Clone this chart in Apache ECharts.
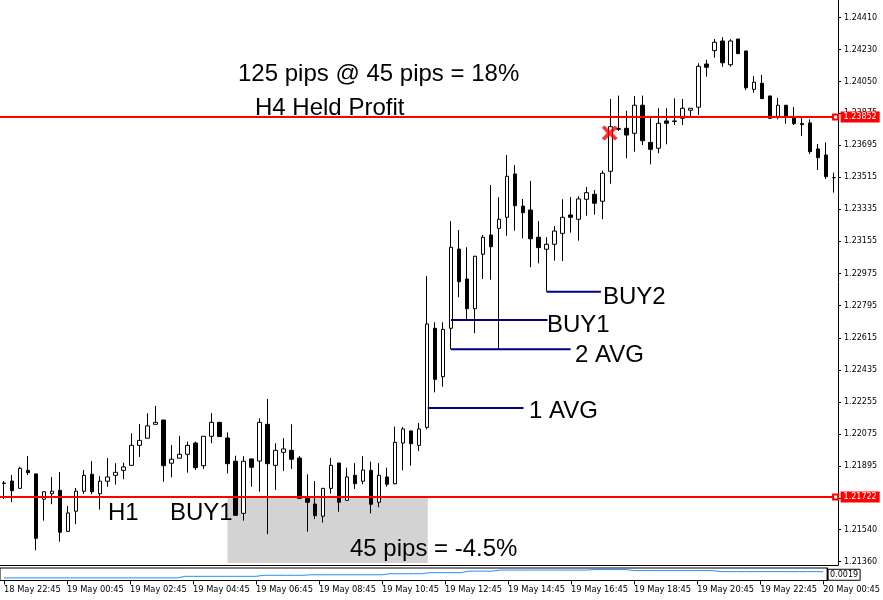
<!DOCTYPE html>
<html>
<head>
<meta charset="utf-8">
<script src="https://cdn.jsdelivr.net/npm/echarts@6/dist/echarts.min.js"></script>
<style>
html,body{margin:0;padding:0;background:#fff;}
#c{width:883px;height:600px;}
</style>
</head>
<body>
<div id="c"></div>
<script>
// ---- data (M15 candles) ----
const opens = [1.21799,1.21812,1.21771,1.21872,1.21852,1.21710,1.21741,1.21760,1.21530,1.21643,
1.21755,1.21850,1.21741,1.21811,1.21844,1.21872,1.21900,1.22012,1.22052,1.22130,
1.22154,1.21912,1.21940,1.21962,1.22025,1.21898,1.22063,1.22141,1.22053,1.21923,
1.21631,1.21936,1.21924,1.22130,1.21900,1.21973,1.21984,1.21941,1.21715,1.21683,
1.21615,1.21771,1.21913,1.21704,1.21844,1.21811,1.21872,1.21693,1.21835,1.21797,
1.22025,1.22093,1.22012,1.22113,1.22668,1.22397,1.22668,1.23112,1.22944,1.22778,
1.23083,1.23191,1.23228,1.23290,1.23533,1.23353,1.23331,1.23178,1.23111,1.23139,
1.23200,1.23303,1.23279,1.23391,1.23419,1.23380,1.23548,1.23783,1.23789,1.23761,
1.23918,1.23710,1.23677,1.23830,1.23827,1.23845,1.23890,1.23907,1.24149,1.24224,
1.24278,1.24145,1.24289,1.24222,1.24007,1.24041,1.23970,1.23854,1.23918,1.23845,
1.23815,1.23819,1.23673,1.23639,1.23512];
const closes = [1.21801,1.21758,1.21883,1.21859,1.21491,1.21752,1.21755,1.21525,1.21633,1.21755,
1.21844,1.21752,1.21811,1.21835,1.21861,1.21891,1.22012,1.22040,1.22121,1.22141,
1.21898,1.21934,1.21962,1.22012,1.21887,1.22063,1.22141,1.22061,1.21909,1.21620,
1.21923,1.21889,1.22141,1.21909,1.21984,1.21992,1.21934,1.21715,1.21693,1.21618,
1.21771,1.21900,1.21693,1.21835,1.21797,1.21874,1.21682,1.21844,1.21794,1.22029,
1.22104,1.22021,1.22104,1.22692,1.22382,1.22662,1.23122,1.22929,1.22778,1.23072,
1.23178,1.23125,1.23279,1.23520,1.23355,1.23316,1.23170,1.23120,1.23139,1.23213,
1.23290,1.23290,1.23393,1.23428,1.23369,1.23537,1.23798,1.23787,1.23751,1.23918,
1.23719,1.23671,1.23817,1.23817,1.23830,1.23901,1.23901,1.24136,1.24131,1.24271,
1.24156,1.24278,1.24207,1.24016,1.24047,1.23955,1.23845,1.23918,1.23851,1.23815,
1.23809,1.23658,1.23624,1.23518,1.23512];
const lows = [1.21711,1.21693,1.21769,1.21846,1.21424,1.21590,1.21682,1.21472,1.21529,1.21570,
1.21741,1.21739,1.21652,1.21780,1.21792,1.21822,1.21899,1.21947,1.22051,1.22129,
1.21808,1.21833,1.21939,1.21859,1.21874,1.21880,1.22024,1.22060,1.21855,1.21619,
1.21590,1.21780,1.21752,1.21514,1.21762,1.21868,1.21880,1.21714,1.21528,1.21599,
1.21579,1.21741,1.21640,1.21703,1.21768,1.21794,1.21631,1.21665,1.21780,1.21794,
1.21872,1.21898,1.21980,1.22102,1.22309,1.22341,1.22550,1.22842,1.22720,1.22640,
1.22944,1.22940,1.22550,1.23187,1.23215,1.23172,1.23010,1.23032,1.22873,1.23047,
1.23045,1.23204,1.23159,1.23299,1.23305,1.23279,1.23478,1.23774,1.23621,1.23658,
1.23695,1.23587,1.23649,1.23699,1.23807,1.23807,1.23848,1.23863,1.24078,1.24184,
1.24134,1.24134,1.24206,1.24003,1.23988,1.23954,1.23844,1.23839,1.23815,1.23807,
1.23746,1.23645,1.23555,1.23505,1.23428];
const highs = [1.21812,1.21846,1.21892,1.21952,1.21853,1.21753,1.21835,1.21863,1.21672,1.21773,
1.21874,1.21924,1.21839,1.21941,1.21912,1.21915,1.22080,1.22132,1.22192,1.22233,
1.22155,1.22014,1.22065,1.22033,1.22033,1.22064,1.22193,1.22142,1.22085,1.21954,
1.21951,1.21937,1.22164,1.22272,1.22024,1.22052,1.22130,1.21952,1.21850,1.21812,
1.21772,1.21941,1.21914,1.21887,1.21912,1.21951,1.21921,1.21912,1.21887,1.22117,
1.22115,1.22094,1.22137,1.22961,1.22702,1.22702,1.23269,1.23219,1.23122,1.23073,
1.23191,1.23471,1.23402,1.23639,1.23583,1.23393,1.23494,1.23269,1.23178,1.23241,
1.23391,1.23404,1.23408,1.23460,1.23443,1.23551,1.23953,1.23972,1.23887,1.23970,
1.23972,1.23854,1.23901,1.23901,1.23957,1.23953,1.23902,1.24153,1.24172,1.24289,
1.24299,1.24288,1.24290,1.24223,1.24082,1.24088,1.23971,1.23959,1.23919,1.23908,
1.23858,1.23839,1.23701,1.23710,1.23540];
const indicator = [0.00184,0.00184,0.00184,0.00184,0.00184,0.00184,0.00184,0.00184,0.00184,0.00184,
0.00184,0.00184,0.00184,0.00184,0.00184,0.00184,0.00184,0.00184,0.00184,0.00184,
0.00184,0.00184,0.00184,0.00187,0.00187,0.00187,0.00187,0.00187,0.00187,0.00187,
0.00187,0.00187,0.00187,0.00189,0.00189,0.00189,0.00189,0.00189,0.00189,0.00190,
0.00190,0.00190,0.00190,0.00190,0.00190,0.00190,0.00190,0.00190,0.00190,0.00192,
0.00192,0.00192,0.00192,0.00192,0.00194,0.00194,0.00194,0.00194,0.00194,0.00197,
0.00197,0.00197,0.00197,0.00199,0.00199,0.00199,0.00199,0.00199,0.00199,0.00199,
0.00199,0.00199,0.00199,0.00199,0.00199,0.00200,0.00200,0.00200,0.00200,0.00200,
0.00198,0.00198,0.00198,0.00198,0.00198,0.00198,0.00198,0.00198,0.00198,0.00198,
0.00198,0.00196,0.00196,0.00196,0.00196,0.00196,0.00196,0.00196,0.00196,0.00196,
0.00196,0.00196,0.00196,0.00196,0.00196];
const priceTicks = [1.21360,1.21540,1.21715,1.21895,1.22075,1.22255,1.22435,1.22615,1.22795,
1.22975,1.23155,1.23335,1.23515,1.23695,1.23875,1.24050,1.24230,1.24410];
const hLineProfit = 1.23852;
const hLineEntry = 1.21722;
// annotation levels [fromBar, toBar, price]
const avg1Line = [53.1, 65.1, 1.22221];
const avg2Line = [56, 71, 1.22550];
const buy1Line = [56, 68.1, 1.22715];
const buy2Line = [68, 74.8, 1.22873];
const lossBox = [28, 53.1, 1.21722, 1.21353];
const closeMark = [75.9, 1.23762];
const indicatorLabel = '0.0019';

// categories: 15-minute bars starting 18 May 22:45
const categories = [];
for (let i = 0; i < opens.length; i++) {
  const t = 22 * 60 + 45 + 15 * i;
  const d = 18 + Math.floor(t / 1440);
  const m = t % 1440;
  const hh = String(Math.floor(m / 60)).padStart(2, '0');
  const mm = String(m % 60).padStart(2, '0');
  categories.push(d + ' May ' + hh + ':' + mm);
}
const candleData = opens.map((o, i) => [o, closes[i], lows[i], highs[i]]);

const axisFont = 'DejaVu Sans';
const noteFont = '24px "Liberation Sans", Arial, sans-serif';
const navy = '#000080';
const red = '#ff0000';

function seg(name, l) {
  return {
    type: 'line', name: name, xAxisIndex: 1, yAxisIndex: 0, symbol: 'none', z: 4,
    lineStyle: { color: navy, width: 2 }, silent: true,
    data: [[l[0], l[2]], [l[1], l[2]]]
  };
}
function redLine(name, v) {
  return {
    type: 'line', name: name, xAxisIndex: 1, yAxisIndex: 0, z: 6, silent: true,
    lineStyle: { color: red, width: 2 }, itemStyle: { color: red },
    showSymbol: true, clip: false,
    data: [{ value: [-0.5, v], symbol: 'none' }, { value: [104.2, v], symbol: 'emptyRect', symbolSize: 5 }],
    endLabel: {
      show: true, formatter: v.toFixed(5), color: '#fff', backgroundColor: red,
      fontFamily: axisFont, fontSize: 8, padding: [2, 3, 1, 3], distance: 5
    }
  };
}

const chart = echarts.init(document.getElementById('c'), null, { renderer: 'canvas' });
chart.setOption({
  animation: false,
  backgroundColor: '#fff',
  grid: [
    { left: -2, width: 840, top: 0, height: 565 },
    { left: -2, width: 840, top: 568, height: 12.5, show: true, borderColor: '#000', borderWidth: 1 }
  ],
  xAxis: [
    { type: 'category', gridIndex: 0, data: categories, boundaryGap: true,
      axisLine: { show: true, onZero: false, lineStyle: { color: '#000', width: 1 } },
      axisTick: { show: false }, axisLabel: { show: false }, splitLine: { show: false } },
    { type: 'value', gridIndex: 0, min: -0.5, max: 104.5, show: false,
      axisLine: { show: false, onZero: false }, splitLine: { show: false } },
    { type: 'category', gridIndex: 1, data: categories, boundaryGap: true,
      axisLine: { show: true, onZero: false, lineStyle: { color: '#000', width: 1 } },
      axisTick: { show: true, interval: 7, alignWithLabel: true, length: 4, lineStyle: { color: '#000' } },
      axisLabel: { interval: 7, align: 'left', margin: 5, color: '#000', fontFamily: axisFont, fontSize: 8.3 },
      splitLine: { show: false } }
  ],
  yAxis: [
    { type: 'value', gridIndex: 0, position: 'right', min: 1.213415, max: 1.245078, scale: true,
      axisLine: { show: true, onZero: false, lineStyle: { color: '#000', width: 1 } },
      axisTick: { show: true, length: 3, customValues: priceTicks, lineStyle: { color: '#000' } },
      axisLabel: { customValues: priceTicks, margin: 6, color: '#000', fontFamily: axisFont, fontSize: 8,
        formatter: v => v.toFixed(5) },
      splitLine: { show: false } },
    { type: 'value', gridIndex: 1, position: 'right', min: 0.00179, max: 0.00203,
      axisLine: { show: true, onZero: false, lineStyle: { color: '#000', width: 1 } },
      axisTick: { show: false },
      axisLabel: { customValues: [0.00190], margin: 1, color: '#000', fontFamily: axisFont, fontSize: 8,
        borderColor: '#000', borderWidth: 1, padding: [2, 2, 1, 2], formatter: () => indicatorLabel },
      splitLine: { show: false } }
  ],
  series: [
    {
      type: 'line', name: 'loss zone', xAxisIndex: 1, yAxisIndex: 0, data: [], silent: true,
      markArea: {
        silent: true, z: 1,
        itemStyle: { color: '#d3d3d3' },
        data: [[{ coord: [lossBox[0], lossBox[2]] }, { coord: [lossBox[1], lossBox[3]] }]]
      }
    },
    {
      type: 'candlestick', name: 'M15', xAxisIndex: 0, yAxisIndex: 0, z: 3,
      data: candleData, barWidth: 4,
      itemStyle: { color: '#fff', color0: '#000', borderColor: '#000', borderColor0: '#000', borderColorDoji: '#000', borderWidth: 1 }
    },
    seg('1 AVG', avg1Line),
    seg('2 AVG', avg2Line),
    seg('BUY1', buy1Line),
    seg('BUY2', buy2Line),
    redLine('H4 Held Profit', hLineProfit),
    redLine('Entry', hLineEntry),
    {
      type: 'scatter', name: 'close mark', xAxisIndex: 1, yAxisIndex: 0, z: 7, silent: true,
      symbol: 'path://M0,1.5 L1.8,0 L5,3.2 L8.2,0 L10,1.5 L6.8,5 L10,8.5 L8.2,10 L5,6.8 L1.8,10 L0,8.5 L3.2,5 Z',
      symbolSize: [16, 15], itemStyle: { color: red },
      data: [closeMark]
    },
    {
      type: 'line', name: 'indicator', xAxisIndex: 2, yAxisIndex: 1, symbol: 'none',
      lineStyle: { color: '#1e90ff', width: 1 }, data: indicator, silent: true
    }
  ],
  graphic: [
    { type: 'text', x: 238, y: 74, z: 10, style: { text: '125 pips @ 45 pips = 18%', font: noteFont, fill: '#000', verticalAlign: 'middle' } },
    { type: 'text', x: 255, y: 108, z: 10, style: { text: 'H4 Held Profit', font: noteFont, fill: '#000', verticalAlign: 'middle' } },
    { type: 'text', x: 108, y: 513, z: 10, style: { text: 'H1', font: noteFont, fill: '#000', verticalAlign: 'middle' } },
    { type: 'text', x: 170, y: 513, z: 10, style: { text: 'BUY1', font: noteFont, fill: '#000', verticalAlign: 'middle' } },
    { type: 'text', x: 350, y: 549, z: 10, style: { text: '45 pips = -4.5%', font: noteFont, fill: '#000', verticalAlign: 'middle' } },
    { type: 'text', x: 603, y: 297, z: 10, style: { text: 'BUY2', font: noteFont, fill: '#000', verticalAlign: 'middle' } },
    { type: 'text', x: 547, y: 325, z: 10, style: { text: 'BUY1', font: noteFont, fill: '#000', verticalAlign: 'middle' } },
    { type: 'text', x: 575, y: 355, z: 10, style: { text: '2 AVG', font: noteFont, fill: '#000', verticalAlign: 'middle' } },
    { type: 'text', x: 529, y: 411, z: 10, style: { text: '1 AVG', font: noteFont, fill: '#000', verticalAlign: 'middle' } }
  ]
});
</script>
</body>
</html>
